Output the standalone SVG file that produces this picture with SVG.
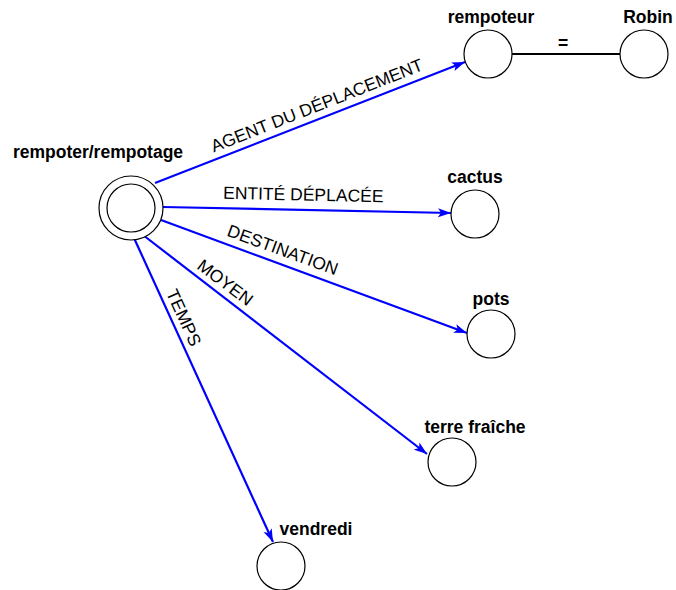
<svg xmlns="http://www.w3.org/2000/svg" width="676" height="590" viewBox="0 0 676 590">
<defs>
<style>
.node{fill:#fff;stroke:#000;stroke-width:1.2}
.nl{font-family:"Liberation Sans",Arial,sans-serif;font-size:17.5px;font-weight:bold;fill:#000;text-anchor:middle}
.el{font-family:"Liberation Sans",Arial,sans-serif;font-size:17.5px;fill:#000;text-anchor:middle}
.edge{stroke:#0000ff;stroke-width:2.2;fill:none}
.link{stroke:#000;stroke-width:2;fill:none}
</style>
<marker id="arr" markerUnits="userSpaceOnUse" markerWidth="14" markerHeight="10" refX="13" refY="5" orient="auto">
<path d="M0,0.5 L13,5 L0,9.5 L3,5 z" fill="#0000ff"/>
</marker>
</defs>
<rect width="676" height="590" fill="#fff"/>
<g id="connectors">
<line class="link" x1="512" y1="54" x2="620" y2="54"/>
<text class="nl" x="563" y="49">=</text>
<line class="edge" x1="155" y1="183" x2="465" y2="62" marker-end="url(#arr)"/>
<text class="el" transform="translate(322,118.5) rotate(-21.5)" y="-8">AGENT DU DÉPLACEMENT</text>
<line class="edge" x1="163" y1="207" x2="451" y2="213" marker-end="url(#arr)"/>
<text class="el" transform="translate(303,209.5) rotate(1.2)" y="-9">ENTITÉ DÉPLACÉE</text>
<line class="edge" x1="161" y1="220" x2="467" y2="333" marker-end="url(#arr)"/>
<text class="el" transform="translate(278,263) rotate(20)" y="-8">DESTINATION</text>
<line class="edge" x1="143" y1="235" x2="427" y2="454" marker-end="url(#arr)"/>
<text class="el" transform="translate(218,292) rotate(37)" y="-6">MOYEN</text>
<line class="edge" x1="134" y1="238" x2="273" y2="542" marker-end="url(#arr)"/>
<text class="el" transform="translate(172,323) rotate(65.4)" y="-7">TEMPS</text>
</g>
<g id="rempoter">
<circle class="node" cx="131" cy="208" r="32"/>
<circle class="node" cx="131" cy="208" r="24"/>
<text class="nl" x="98" y="158">rempoter/rempotage</text>
</g>
<g id="rempoteur">
<circle class="node" cx="488" cy="54" r="24"/>
<text class="nl" x="491" y="23">rempoteur</text>
</g>
<g id="robin">
<circle class="node" cx="644" cy="54" r="24"/>
<text class="nl" x="648" y="23">Robin</text>
</g>
<g id="cactus">
<circle class="node" cx="475" cy="214" r="24"/>
<text class="nl" x="475" y="183">cactus</text>
</g>
<g id="pots">
<circle class="node" cx="491" cy="334" r="24"/>
<text class="nl" x="491" y="305">pots</text>
</g>
<g id="terre">
<circle class="node" cx="452" cy="462" r="24"/>
<text class="nl" x="475" y="433">terre fraîche</text>
</g>
<g id="vendredi">
<circle class="node" cx="281" cy="566" r="24"/>
<text class="nl" x="316" y="535">vendredi</text>
</g>
</svg>
